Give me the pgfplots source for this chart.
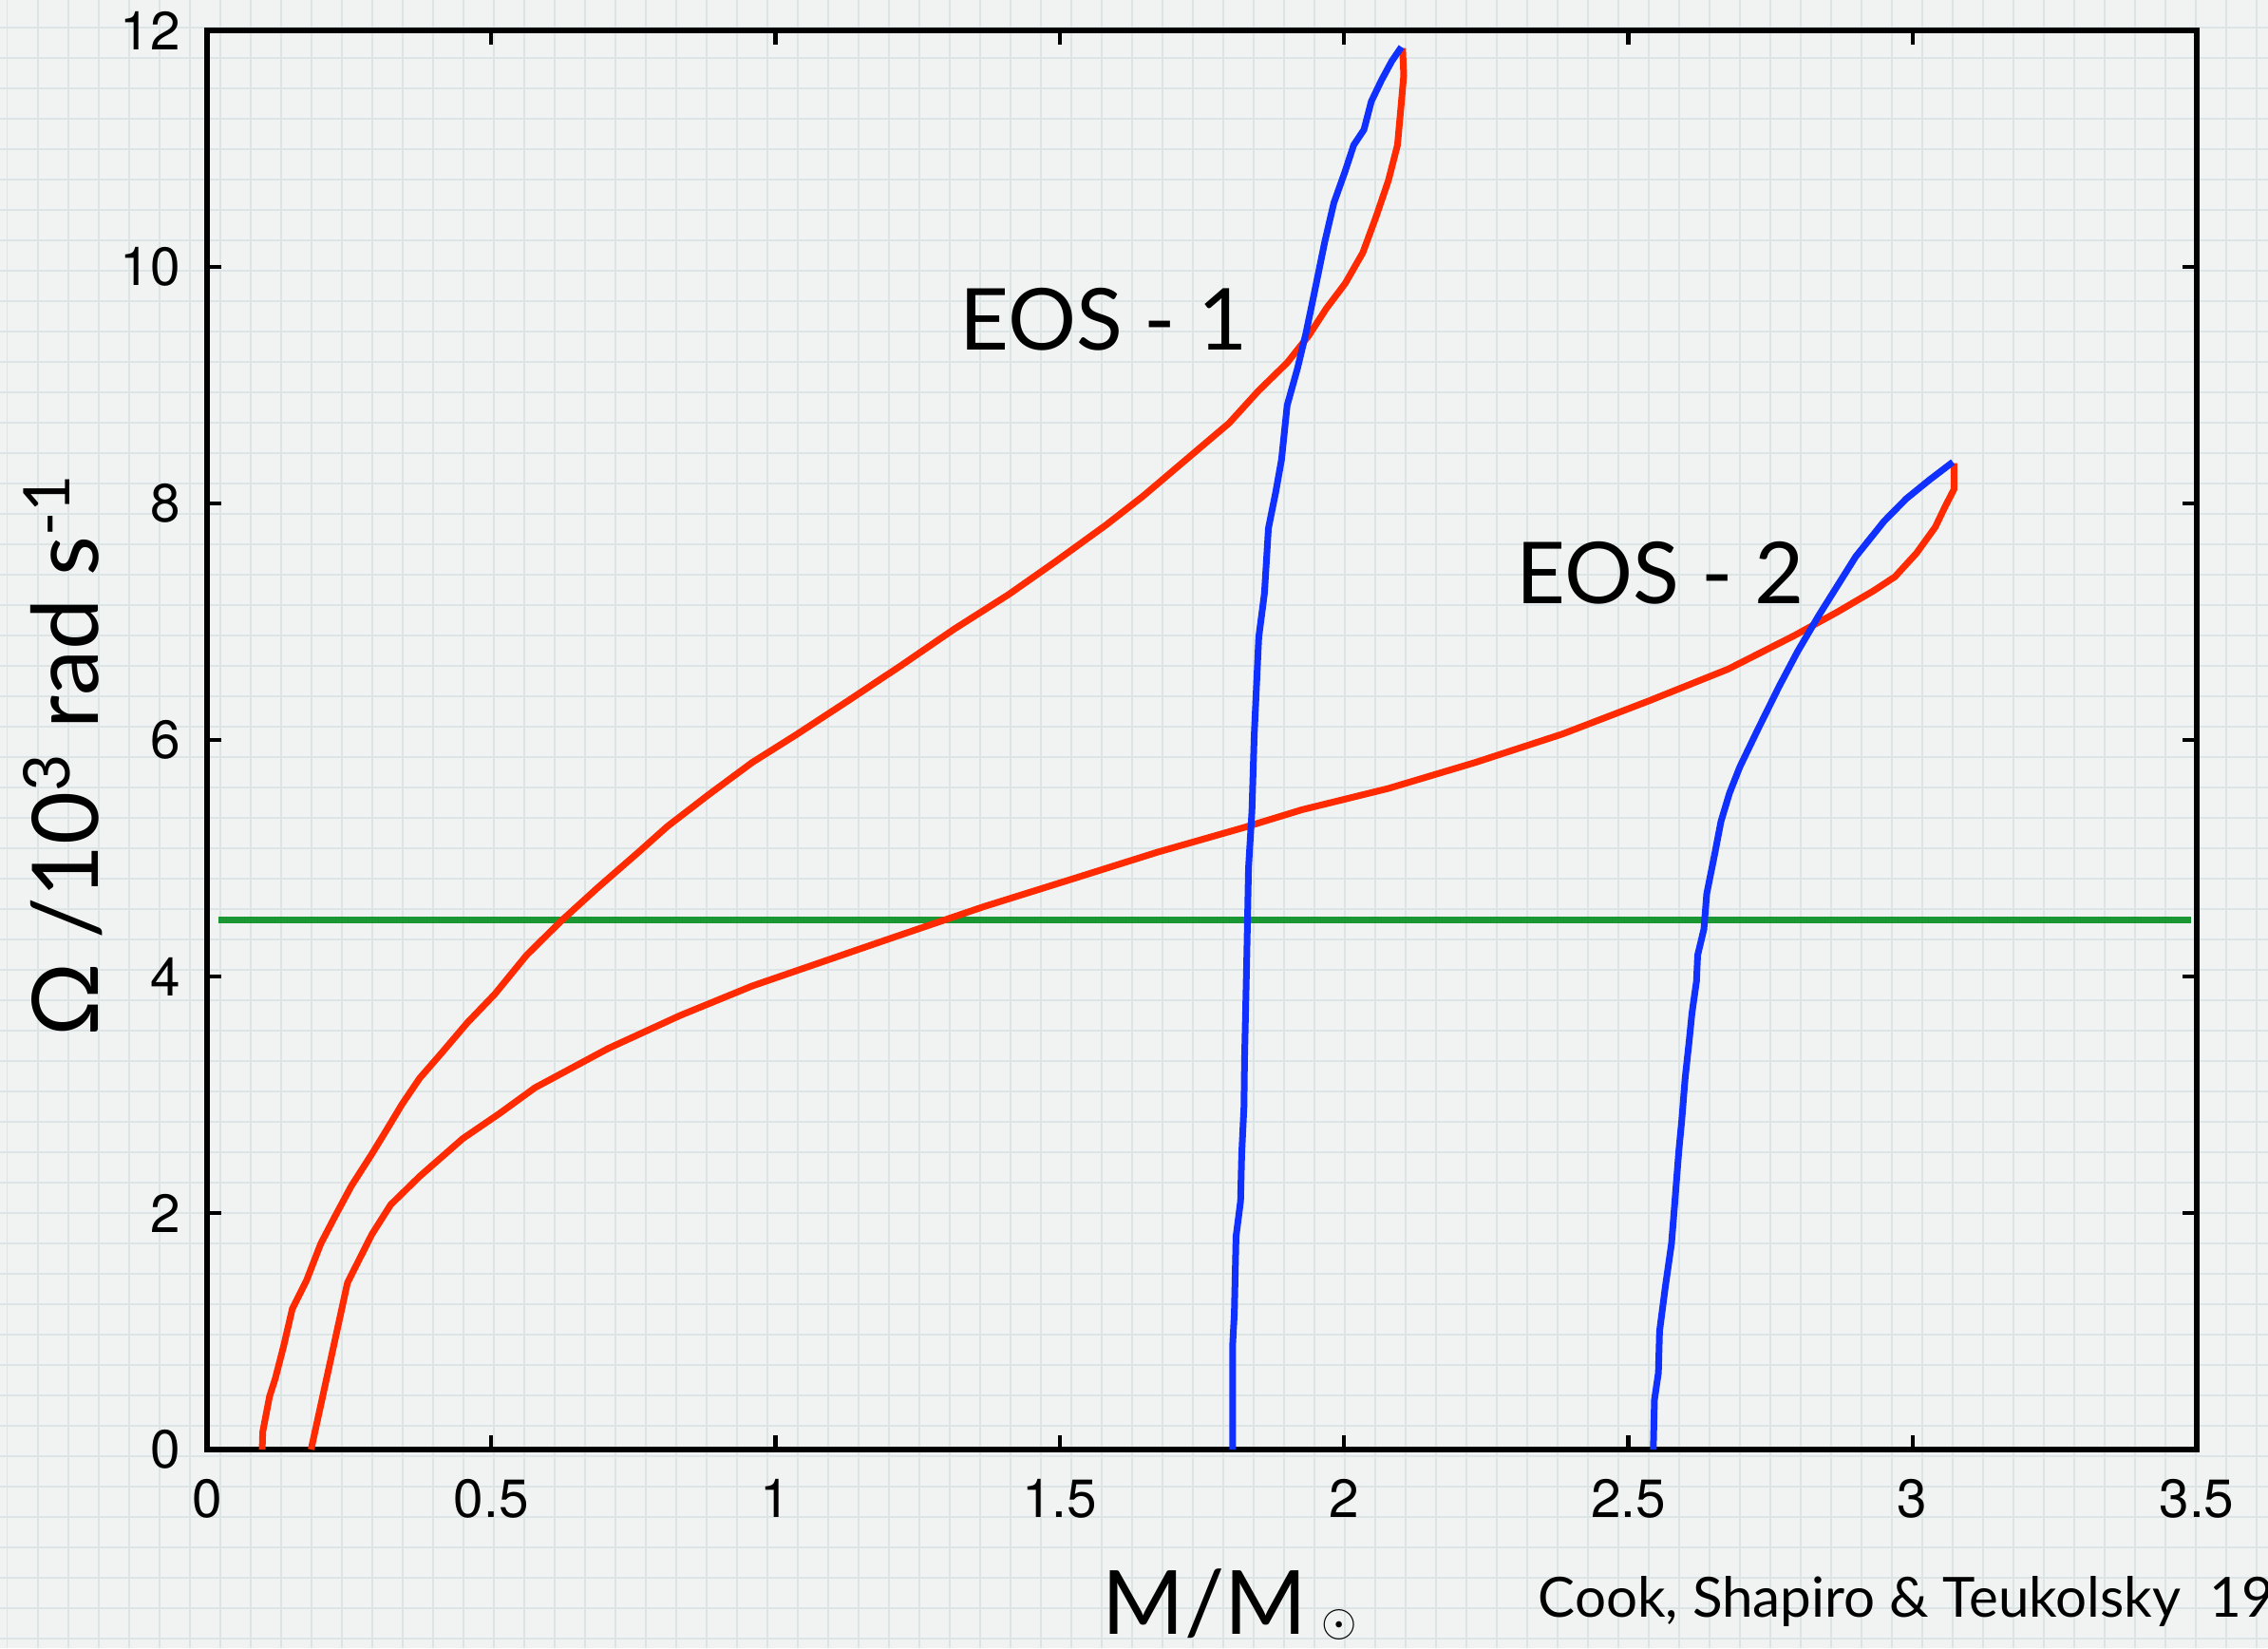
\documentclass[border=0pt]{standalone}
\usepackage{fontspec}
\usepackage{pgfplots}
\pgfplotsset{compat=1.18}
\setmainfont{TeX Gyre Heros}
\newfontfamily\gill{Lato}
\definecolor{bgc}{HTML}{F1F2F2}
\definecolor{gridc}{HTML}{DCE4E6}
\definecolor{redc}{HTML}{FF2A00}
\definecolor{bluec}{HTML}{1030FF}
\definecolor{greenc}{HTML}{1A9632}

\pgfplotstableread{
x y
0.097 0
0.098 0.15
0.110 0.45
0.120 0.60
0.135 0.88
0.150 1.19
0.175 1.43
0.200 1.74
0.226 1.98
0.254 2.23
0.290 2.50
0.318 2.72
0.343 2.92
0.374 3.14
0.412 3.35
0.458 3.61
0.506 3.85
0.562 4.18
0.623 4.47
0.687 4.75
0.761 5.06
0.810 5.27
0.883 5.54
0.959 5.81
1.035 6.04
1.124 6.32
1.221 6.63
1.315 6.94
1.410 7.23
1.493 7.51
1.582 7.82
1.646 8.06
1.722 8.37
1.798 8.68
1.849 8.95
1.900 9.19
1.938 9.42
1.969 9.65
2.002 9.86
2.033 10.12
2.056 10.42
2.078 10.73
2.094 11.03
2.101 11.40
2.105 11.62
2.103 11.85
}\redA

\pgfplotstableread{
x y
1.804 0
1.804 0.88
1.807 1.15
1.810 1.80
1.818 2.10
1.820 2.50
1.824 2.90
1.825 3.30
1.829 4.18
1.832 4.92
1.838 5.40
1.842 6.04
1.850 6.87
1.860 7.24
1.867 7.79
1.880 8.10
1.890 8.37
1.900 8.83
1.918 9.14
1.933 9.44
1.949 9.81
1.966 10.21
1.982 10.54
2.002 10.81
2.017 11.03
2.035 11.16
2.048 11.40
2.066 11.58
2.084 11.74
2.101 11.86
}\blueA

\pgfplotstableread{
x y
0.183 0
0.247 1.41
0.290 1.82
0.323 2.07
0.374 2.31
0.450 2.63
0.514 2.84
0.577 3.06
0.705 3.39
0.832 3.67
0.959 3.92
1.086 4.13
1.213 4.34
1.366 4.59
1.519 4.82
1.671 5.05
1.824 5.26
1.926 5.41
2.078 5.59
2.231 5.81
2.384 6.05
2.536 6.33
2.676 6.60
2.791 6.88
2.867 7.08
2.931 7.26
2.969 7.38
3.007 7.58
3.040 7.80
3.058 7.98
3.073 8.12
3.073 8.34
}\redB

\pgfplotstableread{
x y
2.544 0
2.546 0.42
2.553 0.65
2.555 1.00
2.565 1.37
2.576 1.74
2.581 2.04
2.589 2.53
2.594 2.78
2.600 3.14
2.607 3.45
2.612 3.69
2.620 3.96
2.622 4.18
2.633 4.40
2.638 4.70
2.653 5.06
2.663 5.31
2.678 5.55
2.696 5.77
2.727 6.08
2.765 6.45
2.798 6.75
2.836 7.06
2.900 7.55
2.950 7.85
2.989 8.04
3.030 8.20
3.071 8.35
}\blueB

\pgfplotstableread{
x y
0.02 4.48
3.49 4.48
}\greenL

\begin{document}
\begin{tikzpicture}[x=1pt,y=1pt]
\useasboundingbox (0,0) rectangle (716.4,520.5);
\begin{scope}
\clip (0,0) rectangle (716.4,520.5);
\fill[bgc] (0,0) rectangle (716.4,520.5);
\foreach \i in {0,...,75} {
  \draw[gridc, line width=0.5pt] ({69.5-9.6*7+9.6*\i},0) -- ({69.5-9.6*7+9.6*\i},520.5);
}
\foreach \j in {0,...,55} {
  \draw[gridc, line width=0.5pt] (0,{204.6-9.6*21+9.6*\j}) -- (716.4,{204.6-9.6*21+9.6*\j});
}
\end{scope}
\begin{axis}[
  at={(65.4pt,62.7pt)}, anchor=south west,
  scale only axis, width=628.5pt, height=448.2pt,
  xmin=0, xmax=3.5, ymin=0, ymax=12,
  xtick={0,0.5,...,3.5}, ytick={0,2,...,12},
  axis line style={line width=1.6pt, black},
  tick align=inside, major tick length=4.5pt,
  every tick/.style={black, line width=1.3pt},
  minor tick num=0,
  tick label style={font=\fontsize{17}{17}\selectfont},
  /pgf/number format/assume math mode=true,
  yticklabel style={xshift=-5pt},
  xticklabel style={yshift=-6pt},
  clip=false,
]
\addplot[greenc, line width=2.2pt] table {\greenL};
\addplot[redc, line width=2.1pt, line join=round] table {\redA};
\addplot[redc, line width=2.1pt, line join=round] table {\redB};
\addplot[bluec, line width=2.1pt, line join=round] table {\blueA};
\addplot[bluec, line width=2.1pt, line join=round] table {\blueB};
\end{axis}
\node[anchor=base west, inner sep=0pt, font=\gill\fontsize{27}{27}\selectfont] at (302.9,409.9) {EOS - 1};
\node[anchor=base west, inner sep=0pt, font=\gill\fontsize{27}{27}\selectfont] at (478.8,330) {EOS - 2};
\node[anchor=base, rotate=90, inner sep=0pt, font=\gill\fontsize{29}{29}\selectfont] at (31,282) {Ω /10\textsuperscript{3} rad s\textsuperscript{-1}};
\node[anchor=base west, inner sep=0pt, font=\gill\fontsize{28}{28}\selectfont] at (348,4.5) {M/M\,\raisebox{-0.05ex}{\fontsize{15}{15}\selectfont$\odot$}};
\begin{scope}
\clip (0,0) rectangle (716.4,520.5);
\node[anchor=base west, inner sep=0pt, font=\gill\fontsize{17.5}{17.5}\selectfont] at (485.7,9.7) {Cook, Shapiro \& Teukolsky~~1994};
\end{scope}
\end{tikzpicture}
\end{document}
